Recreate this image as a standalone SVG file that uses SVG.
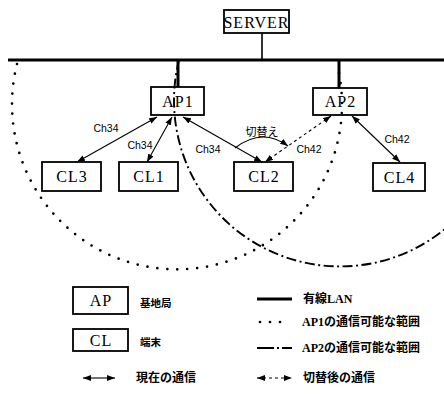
<svg xmlns="http://www.w3.org/2000/svg" width="444" height="394" viewBox="0 0 444 394">
  <style>
    .box { fill: none; stroke: #000; stroke-width: 1.8; }
    .node { font-family: "Liberation Serif", "Times New Roman", serif; font-size: 16px; letter-spacing: 1px; fill: #000; text-anchor: middle; dominant-baseline: central; }
    .ch { font-family: "Liberation Sans", Arial, sans-serif; font-size: 10.5px; fill: #000; text-anchor: middle; dominant-baseline: central; }
    .sw { font-family: "Noto Sans CJK JP", sans-serif; font-size: 11px; fill: #000; text-anchor: middle; dominant-baseline: central; }
    .leg { font-family: "Liberation Serif", "Noto Sans CJK JP", serif; font-weight: bold; font-size: 12px; fill: #000; dominant-baseline: central; }
    .legs { font-family: "Noto Sans CJK JP", sans-serif; font-weight: bold; font-size: 10.5px; fill: #000; dominant-baseline: central; }
    .wire { stroke: #000; stroke-width: 3; fill: none; }
    .link { stroke: #000; stroke-width: 1.1; fill: none; marker-start: url(#ah); marker-end: url(#ah); }
    .dash { stroke-dasharray: 3 3; }
    .range1 { stroke: #000; stroke-width: 2.7; fill: none; stroke-linecap: round; stroke-dasharray: 0 10; }
    .range2 { stroke: #000; stroke-width: 1.9; fill: none; stroke-dasharray: 10 3.5 2 3.5; }
  </style>
  <defs>
    <marker id="ah" viewBox="0 0 8 6" refX="8" refY="3" markerWidth="8" markerHeight="6" markerUnits="userSpaceOnUse" orient="auto-start-reverse">
      <path d="M0,0 L8,3 L0,6 z" fill="#000"/>
    </marker>
  </defs>

  <rect width="444" height="394" fill="#fff"/>

  <!-- wired LAN backbone and coverage ranges -->
  <g id="connectors">
    <line class="wire" x1="8" y1="60" x2="444" y2="60"/>
    <line stroke="#000" stroke-width="1.6" x1="262" y1="33" x2="262" y2="60"/>
    <line class="wire" x1="178" y1="60" x2="178" y2="87"/>
    <line class="wire" x1="339" y1="60" x2="339" y2="88"/>

    <!-- AP1 coverage (dotted) -->
    <path class="range1" d="M17,64 A165 165 0 1 0 337,64"/>
    <!-- AP2 coverage (dash-dot) -->
    <path class="range2" d="M179,60 A166 166 0 1 0 501,60"/>

    <!-- radio links -->
    <line class="link" x1="157" y1="117" x2="77" y2="162"/>
    <line class="link" x1="172" y1="117" x2="147" y2="162"/>
    <line class="link" x1="183" y1="117" x2="262" y2="162"/>
    <line class="link dash" x1="331" y1="116" x2="265" y2="162"/>
    <line class="link" x1="352" y1="116" x2="400" y2="162"/>

    <!-- handover arc -->
    <path d="M235,148 Q262,127 288,146" stroke="#000" stroke-width="1.1" fill="none" marker-end="url(#ah)"/>

    <text class="ch" x="106" y="128">Ch34</text>
    <text class="ch" x="140" y="145">Ch34</text>
    <text class="ch" x="208" y="149">Ch34</text>
    <text class="ch" x="309" y="149">Ch42</text>
    <text class="ch" x="397" y="139">Ch42</text>
    <text class="sw" x="262" y="131">切替え</text>
  </g>

  <g id="server">
    <rect class="box" x="224" y="10" width="65" height="23"/>
    <text class="node" x="256.5" y="22" font-size="14" letter-spacing="0.3">SERVER</text>
  </g>
  <g id="ap1">
    <rect class="box" x="151" y="87" width="53" height="28"/>
    <text class="node" x="178" y="101.5">AP1</text>
  </g>
  <g id="ap2">
    <rect class="box" x="313" y="88" width="54" height="27"/>
    <text class="node" x="340.5" y="101.5">AP2</text>
  </g>
  <g id="cl3">
    <rect class="box" x="42" y="162" width="59" height="29"/>
    <text class="node" x="72" y="176.5">CL3</text>
  </g>
  <g id="cl1">
    <rect class="box" x="119" y="162" width="59" height="29"/>
    <text class="node" x="149" y="176.5">CL1</text>
  </g>
  <g id="cl2">
    <rect class="box" x="234" y="162" width="59" height="29"/>
    <text class="node" x="264" y="176.5">CL2</text>
  </g>
  <g id="cl4">
    <rect class="box" x="373" y="163" width="52" height="28"/>
    <text class="node" x="399.5" y="177">CL4</text>
  </g>

  <!-- legend -->
  <g id="legend">
    <rect class="box" x="73" y="287" width="55" height="27"/>
    <text class="node" x="101" y="300.5">AP</text>
    <text class="legs" x="140" y="302">基地局</text>

    <rect class="box" x="73" y="329" width="55" height="22"/>
    <text class="node" x="101" y="340">CL</text>
    <text class="legs" x="140" y="341">端末</text>

    <line class="link" x1="83" y1="378" x2="115" y2="378"/>
    <text class="leg" x="136" y="378">現在の通信</text>

    <line class="wire" stroke-width="2.5" x1="257" y1="299" x2="292" y2="299"/>
    <text class="leg" x="303" y="299">有線LAN</text>

    <path class="range1" d="M260,322 L282,322"/>
    <text class="leg" x="302" y="322">AP1の通信可能な範囲</text>

    <path stroke="#000" stroke-width="2.2" fill="none" stroke-dasharray="17 3 2 3 10" d="M257,348 L292,348"/>
    <text class="leg" x="302" y="348">AP2の通信可能な範囲</text>

    <line class="link dash" x1="257" y1="378" x2="292" y2="378"/>
    <text class="leg" x="303" y="378">切替後の通信</text>
  </g>
</svg>
